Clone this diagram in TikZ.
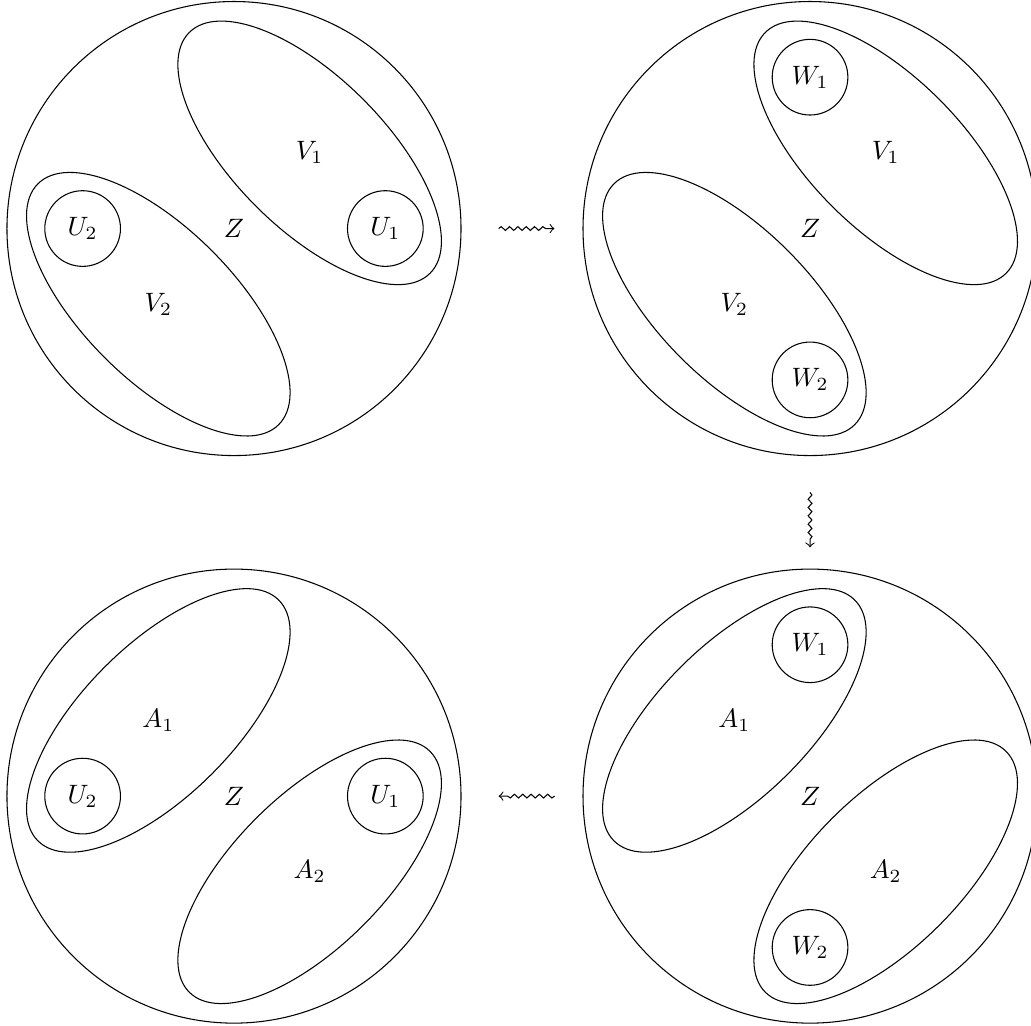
\documentclass[tikz,border=0pt]{standalone}
\usetikzlibrary{decorations.pathmorphing}
\begin{document}
\begin{tikzpicture}[
    ball/.style={draw, circle, minimum size=6cm, inner sep=0pt},
    blob/.style={draw, circle, minimum size=1cm, inner sep=0pt},
    squig/.style={->, decorate, decoration={snake, amplitude=0.25mm, segment length=1.1mm, post length=1mm}}
]
    \useasboundingbox (-3.092,-10.526) rectangle (10.532,3.020);

    % U's on the sides, V's
    \begin{scope}[xshift=0cm]
        \node[ball] (p1) at (0,0) {};
        \draw[rotate around={-45:(1,1)}] (1,1) ellipse (2.25 and 1);
        \draw[rotate around={-45:(-1,-1)}] (-1,-1) ellipse (2.25 and 1);
        \node[blob] (u1) at (2,0) {$U_1$};
        \node[blob] (u2) at (-2,0) {$U_2$};
        \node (v1) at (1,1) {$V_1$};
        \node (v2) at (-1,-1) {$V_2$};
        \node (z1) at (0,0) {$Z$};
    \end{scope}

    % W's on top and bottom, V's
    \begin{scope}[xshift=7.612cm]
        \node[ball] (p2) at (0,0) {};
        \draw[rotate around={-45:(1,1)}] (1,1) ellipse (2.25 and 1);
        \draw[rotate around={-45:(-1,-1)}] (-1,-1) ellipse (2.25 and 1);
        \node[blob] (w1) at (0,2) {$W_1$};
        \node[blob] (w2) at (0,-2) {$W_2$};
        \node (v3) at (1,1) {$V_1$};
        \node (v4) at (-1,-1) {$V_2$};
        \node (z2) at (0,0) {$Z$};
    \end{scope}

    % U's on the sides, A's
    \begin{scope}[yshift=-7.5cm]
        \node[ball] (p3) at (0,0) {};
        \draw[rotate around={45:(-1,1)}] (-1,1) ellipse (2.25 and 1);
        \draw[rotate around={45:(1,-1)}] (1,-1) ellipse (2.25 and 1);
        \node[blob] (u3) at (2,0) {$U_1$};
        \node[blob] (u4) at (-2,0) {$U_2$};
        \node (a1) at (-1,1) {$A_1$};
        \node (a2) at (1,-1) {$A_2$};
        \node (z3) at (0,0) {$Z$};
    \end{scope}

    % W's on top and bottom, A's
    \begin{scope}[xshift=7.612cm, yshift=-7.5cm]
        \node[ball] (p4) at (0,0) {};
        \draw[rotate around={45:(-1,1)}] (-1,1) ellipse (2.25 and 1);
        \draw[rotate around={45:(1,-1)}] (1,-1) ellipse (2.25 and 1);
        \node[blob] (w3) at (0,2) {$W_1$};
        \node[blob] (w4) at (0,-2) {$W_2$};
        \node (a3) at (-1,1) {$A_1$};
        \node (a4) at (1,-1) {$A_2$};
        \node (z4) at (0,0) {$Z$};
    \end{scope}

    % moves
    \draw[squig] ([xshift=4.9mm]p1.east) -- ([xshift=-3.7mm]p2.west);
    \draw[squig] ([yshift=-4.8mm]p2.south) -- ([yshift=2.8mm]p4.north);
    \draw[squig] ([xshift=-3.7mm]p4.west) -- ([xshift=4.9mm]p3.east);
\end{tikzpicture}
\end{document}
